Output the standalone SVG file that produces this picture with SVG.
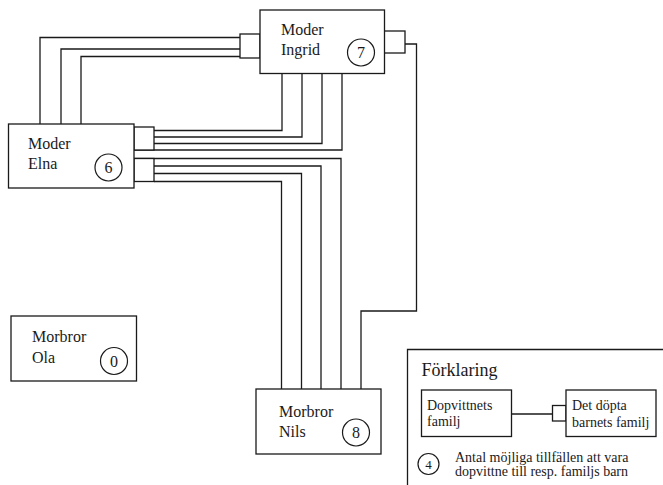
<svg xmlns="http://www.w3.org/2000/svg" width="663" height="485" viewBox="0 0 663 485">
<style>
.box{fill:#fff;stroke:#1a1a1a;stroke-width:1.3}
.ln{fill:none;stroke:#1a1a1a;stroke-width:1.3}
.t{font-family:"Liberation Serif","Times New Roman",serif;font-size:16px;fill:#1a1a1a}
.n{font-family:"Liberation Serif","Times New Roman",serif;font-size:16px;fill:#1a1a1a;text-anchor:middle}
.s{font-family:"Liberation Serif","Times New Roman",serif;font-size:14px;fill:#1a1a1a}
.c{fill:#fff;stroke:#1a1a1a;stroke-width:1.2}
</style>
<rect width="663" height="485" fill="#fff"/>
<g id="connectors">
  <polyline class="ln" points="240,37.5 40,37.5 40,124"/>
  <polyline class="ln" points="240,49 61,49 61,124"/>
  <polyline class="ln" points="240,56.5 81,56.5 81,124"/>
  <polyline class="ln" points="282,73 282,130.5 154,130.5"/>
  <polyline class="ln" points="302,73 302,137 154,137"/>
  <polyline class="ln" points="322,73 322,143.5 154,143.5"/>
  <polyline class="ln" points="342,73 342,150 134,150"/>
  <polyline class="ln" points="134,158.5 341,158.5 341,389"/>
  <polyline class="ln" points="154,166 321,166 321,389"/>
  <polyline class="ln" points="154,173.5 301.5,173.5 301.5,389"/>
  <polyline class="ln" points="154,181.5 281.5,181.5 281.5,389"/>
  <polyline class="ln" points="405,44 416.5,44 416.5,311 361,311 361,389"/>
  <rect class="box" x="240" y="34" width="20" height="24"/>
  <rect class="box" x="384" y="31" width="21" height="22"/>
  <rect class="box" x="134" y="127" width="20" height="23"/>
  <rect class="box" x="134" y="158.5" width="20" height="23"/>
</g>
<g id="ingrid">
  <rect class="box" x="260" y="10" width="124.5" height="63.5"/>
  <text class="t" x="281" y="35">Moder</text>
  <text class="t" x="281" y="55">Ingrid</text>
  <circle class="c" cx="361" cy="52.5" r="13.5"/>
  <text class="n" x="361" y="58">7</text>
</g>
<g id="elna">
  <rect class="box" x="8.5" y="124" width="125.5" height="64"/>
  <text class="t" x="28" y="149">Moder</text>
  <text class="t" x="28" y="169">Elna</text>
  <circle class="c" cx="108.5" cy="167.5" r="13.5"/>
  <text class="n" x="108.5" y="173">6</text>
</g>
<g id="ola">
  <rect class="box" x="11" y="316" width="125.5" height="65"/>
  <text class="t" x="32" y="342">Morbror</text>
  <text class="t" x="32" y="363">Ola</text>
  <circle class="c" cx="114" cy="361" r="13.5"/>
  <text class="n" x="114" y="366.5">0</text>
</g>
<g id="nils">
  <rect class="box" x="256" y="389" width="125" height="65"/>
  <text class="t" x="279" y="417">Morbror</text>
  <text class="t" x="279" y="437">Nils</text>
  <circle class="c" cx="356" cy="432.5" r="13.5"/>
  <text class="n" x="356" y="438">8</text>
</g>
<g id="legend">
  <polyline class="ln" points="407.5,485 407.5,349.5 663,349.5"/>
  <text class="t" x="421.5" y="376" style="font-size:18px">Förklaring</text>
  <line class="ln" x1="511.5" y1="414" x2="552.5" y2="414"/>
  <rect class="box" x="421.5" y="390" width="90" height="46.5"/>
  <text class="s" x="427" y="409.5">Dopvittnets</text>
  <text class="s" x="427" y="425.5">familj</text>
  <rect class="box" x="552.5" y="405.5" width="13.5" height="15.5"/>
  <rect class="box" x="566" y="390" width="90" height="46.5"/>
  <text class="s" x="572" y="409.5">Det döpta</text>
  <text class="s" x="572" y="426.5">barnets familj</text>
  <circle class="c" cx="428.5" cy="464" r="10.5"/>
  <text class="n" x="428.5" y="468.5" style="font-size:13px">4</text>
  <text class="s" x="455" y="462">Antal möjliga tillfällen att vara</text>
  <text class="s" x="455" y="476">dopvittne till resp. familjs barn</text>
</g>
</svg>
